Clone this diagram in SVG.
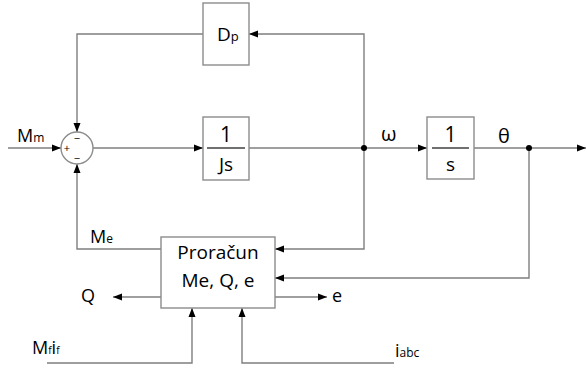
<svg xmlns="http://www.w3.org/2000/svg" width="587" height="365" viewBox="0 0 587 365">
<style>
.ln{fill:none;stroke:#7f7f7f;stroke-width:1.4}
.bx{fill:#fff;stroke:#8c8c8c;stroke-width:1.4}
.t{font-family:"Open Sans","Liberation Sans",sans-serif;fill:#000}
.sg{font-family:"Open Sans","Liberation Sans",sans-serif;fill:#000;font-size:11px}
</style>
<defs>
<marker id="ar" markerUnits="userSpaceOnUse" markerWidth="10" markerHeight="8" refX="9" refY="4" orient="auto">
<path d="M0,0.5 L9,4 L0,7.5 Z" fill="#000"/>
</marker>
</defs>
<g id="connectors">
<path class="ln" d="M8,148 H61" marker-end="url(#ar)"/>
<path class="ln" d="M203,34 H77 V132" marker-end="url(#ar)"/>
<path class="ln" d="M93,148 H203" marker-end="url(#ar)"/>
<path class="ln" d="M249,148 H427" marker-end="url(#ar)"/>
<path class="ln" d="M364,148 V34 H249" marker-end="url(#ar)"/>
<path class="ln" d="M364,148 V249 H275" marker-end="url(#ar)"/>
<path class="ln" d="M474,148 H586" marker-end="url(#ar)"/>
<path class="ln" d="M529,148 V278 H275" marker-end="url(#ar)"/>
<path class="ln" d="M161,249 H77 V164" marker-end="url(#ar)"/>
<path class="ln" d="M161,297 H113" marker-end="url(#ar)"/>
<path class="ln" d="M275,297 H327" marker-end="url(#ar)"/>
<path class="ln" d="M47,363 H192 V308" marker-end="url(#ar)"/>
<path class="ln" d="M394,363 H242 V308" marker-end="url(#ar)"/>
<circle cx="364" cy="148" r="3" fill="#000"/>
<circle cx="529" cy="148" r="3" fill="#000"/>
</g>
<g id="sum">
<circle class="bx" cx="77" cy="148" r="16"/>
<text class="sg" x="77" y="142" text-anchor="middle">−</text>
<text class="sg" x="67" y="152" text-anchor="middle">+</text>
<text class="sg" x="77" y="162" text-anchor="middle">−</text>
</g>
<g id="dp">
<rect class="bx" x="203" y="3" width="46" height="62"/>
<text class="t" x="217" y="41" font-size="19">D<tspan font-size="13">p</tspan></text>
</g>
<g id="js">
<rect class="bx" x="203" y="117" width="46" height="63"/>
<text class="t" x="226" y="142" font-size="21" text-anchor="middle">1</text>
<line x1="207" y1="148" x2="245" y2="148" stroke="#404040" stroke-width="1.4"/>
<text class="t" x="226" y="171" font-size="19" text-anchor="middle">Js</text>
</g>
<g id="s">
<rect class="bx" x="427" y="117" width="47" height="62"/>
<text class="t" x="450.5" y="142" font-size="21" text-anchor="middle">1</text>
<line x1="432" y1="148" x2="469" y2="148" stroke="#404040" stroke-width="1.4"/>
<text class="t" x="450.5" y="171" font-size="19" text-anchor="middle">s</text>
</g>
<g id="proracun">
<rect class="bx" x="161" y="237" width="114" height="71"/>
<text class="t" x="218" y="259" font-size="19" text-anchor="middle">Proračun</text>
<text class="t" x="218" y="287" font-size="19" text-anchor="middle">Me, Q, e</text>
</g>
<g id="labels">
<text class="t" x="17" y="142" font-size="18">M<tspan font-size="12">m</tspan></text>
<text class="t" x="381" y="141" font-size="20">ω</text>
<text class="t" x="498" y="143" font-size="20">θ</text>
<text class="t" x="90" y="243" font-size="18">M<tspan font-size="12">e</tspan></text>
<text class="t" x="81" y="302" font-size="18">Q</text>
<text class="t" x="332" y="302" font-size="18">e</text>
<text class="t" x="32" y="354" font-size="18">M<tspan font-size="10">f</tspan>i<tspan font-size="10">f</tspan></text>
<text class="t" x="395" y="357" font-size="18">i<tspan font-size="12">abc</tspan></text>
</g>
</svg>
